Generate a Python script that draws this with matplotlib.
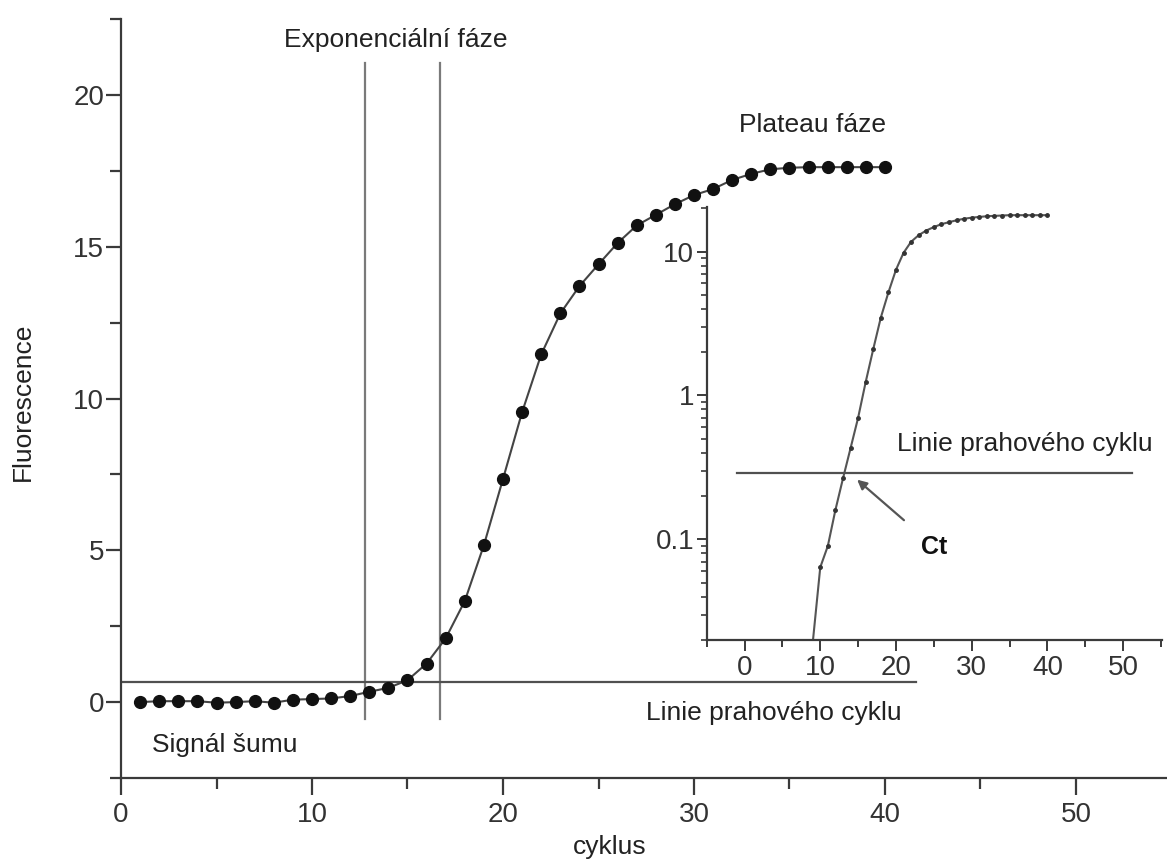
import numpy as np
import matplotlib
matplotlib.use("Agg")
import matplotlib.pyplot as plt
from matplotlib.ticker import MultipleLocator, LogLocator, FixedFormatter, FixedLocator, NullFormatter

plt.rcParams['font.family'] = ['Liberation Sans', 'DejaVu Sans']

# main curve: fluorescence per cycle (linear scale)
cycles = np.arange(1, 41)
fluor = [0.0, 0.03, 0.03, 0.03, -0.02, 0.0, 0.03, -0.02, 0.08, 0.10,
         0.12, 0.20, 0.34, 0.47, 0.72, 1.27, 2.1, 3.33, 5.17, 7.35,
         9.55, 11.45, 12.8, 13.7, 14.42, 15.12, 15.7, 16.05, 16.4, 16.7,
         16.9, 17.2, 17.4, 17.55, 17.6, 17.62, 17.62, 17.62, 17.62, 17.62]

# inset curve: same run on log scale (baseline corrected)
inset_cycles = np.arange(9, 41)
inset_fluor = [0.019, 0.064, 0.09, 0.16, 0.265, 0.43, 0.70, 1.24, 2.1, 3.48,
               5.2, 7.47, 9.8, 11.7, 13.0, 14.0, 14.8, 15.5, 16.0, 16.5,
               16.9, 17.2, 17.4, 17.6, 17.7, 17.8, 17.9, 17.9, 17.9, 17.9,
               17.9, 17.9]

exp_phase = [12.77, 16.70]      # borders of exponential phase
threshold_main = 0.675
threshold_inset = 0.29
ct_point = (14.87, 0.26)

x_ticks = [0, 10, 20, 30, 40, 50]
y_ticks = [0, 5, 10, 15, 20]

W, H = 1167, 859
fig = plt.figure(figsize=(W / 100, H / 100), dpi=100)

spine_c = '#3a3a3a'
text_c = '#222222'
tick_c = '#333333'
fs_tick = 20
fs_text = 19

# ---- main axes ----
ax = fig.add_axes([121 / W, 1 - 778 / H, 1 - 121 / W, (778 - 19) / H])
ax.set_xlim(0, (W - 121) / 19.1)
ax.set_ylim(-2.5, 22.5)
for s in ['top', 'right']:
    ax.spines[s].set_visible(False)
for s in ['left', 'bottom']:
    ax.spines[s].set_color(spine_c)
    ax.spines[s].set_linewidth(1.6)

ax.xaxis.set_major_locator(FixedLocator(x_ticks))
ax.xaxis.set_minor_locator(MultipleLocator(10, offset=5))
ax.yaxis.set_major_locator(FixedLocator(y_ticks))
ax.yaxis.set_minor_locator(MultipleLocator(5, offset=2.5))
ax.tick_params(axis='x', which='major', length=12, width=1.6, color=spine_c,
               labelsize=fs_tick, labelcolor=tick_c, pad=5)
ax.tick_params(axis='x', which='minor', length=8, width=1.6, color=spine_c)
ax.tick_params(axis='y', which='major', length=11, width=1.6, color=spine_c,
               labelsize=fs_tick, labelcolor=tick_c, pad=1)
ax.tick_params(axis='y', which='minor', length=8, width=1.6, color=spine_c)

ax.plot(cycles, fluor, '-', color='#444444', lw=1.5, zorder=3)
ax.plot(cycles, fluor, 'o', color='#111111', ms=8.5, zorder=4)

for xv in exp_phase:
    ax.plot([xv, xv], [-0.55, 21.05], color='#7a7a7a', lw=1.6, zorder=2)
ax.plot([0, 41.6], [threshold_main, threshold_main], color='#505050', lw=1.6, zorder=2)

ax.text(14.4, 21.8, 'Exponenciální fáze', fontsize=fs_text, color=text_c,
        ha='center', va='center')
ax.text(36.2, 19.0, 'Plateau fáze', fontsize=fs_text, color=text_c,
        ha='center', va='center')
ax.text(34.2, -0.35, 'Linie prahového cyklu', fontsize=fs_text, color=text_c,
        ha='center', va='center')
ax.text(5.45, -1.4, 'Signál šumu', fontsize=fs_text, color=text_c,
        ha='center', va='center')

fig.text(23 / W, 1 - 402 / H, 'Fluorescence', fontsize=fs_text, color=text_c,
         rotation=90, ha='center', va='center')
fig.text(610 / W, 1 - 847 / H, 'cyklus', fontsize=fs_text, color=text_c,
         ha='center', va='center')

# ---- inset (log scale) ----
ins = fig.add_axes([706.7 / W, 1 - 640 / H, (1161.7 - 706.7) / W, (640 - 206.7) / H])
ins.patch.set_alpha(0)
ins.set_yscale('log')
ins.set_xlim(-5, 55.1)
ins.set_ylim(0.02, 20.5)
for s in ['top', 'right']:
    ins.spines[s].set_visible(False)
for s in ['left', 'bottom']:
    ins.spines[s].set_color(spine_c)
    ins.spines[s].set_linewidth(1.6)

ins.xaxis.set_major_locator(FixedLocator(x_ticks))
ins.xaxis.set_minor_locator(MultipleLocator(10, offset=5))
ins.yaxis.set_major_locator(FixedLocator([0.1, 1, 10]))
ins.yaxis.set_major_formatter(FixedFormatter(['0.1', '1', '10']))
ins.yaxis.set_minor_locator(LogLocator(base=10, subs=np.arange(2, 10)))
ins.yaxis.set_minor_formatter(NullFormatter())
ins.tick_params(axis='x', which='major', length=8, width=1.4, color=spine_c,
                labelsize=fs_tick, labelcolor=tick_c, pad=3)
ins.tick_params(axis='x', which='minor', length=5, width=1.4, color=spine_c)
ins.tick_params(axis='y', which='major', length=7, width=1.4, color=spine_c,
                labelsize=fs_tick, labelcolor=tick_c, pad=2)
ins.tick_params(axis='y', which='minor', length=4, width=1.2, color=spine_c)

ins.plot(inset_cycles, inset_fluor, '-', color='#555555', lw=1.5,
         marker='o', ms=2.5, mfc='#333333', mec='#333333')
ins.plot([-1, 51.2], [threshold_inset, threshold_inset], color='#505050', lw=1.6)
ins.text(37.0, 0.46, 'Linie prahového cyklu', fontsize=fs_text, color=text_c,
         ha='center', va='center')
ins.annotate('Ct', xy=ct_point, xytext=(25.1, 0.089), fontsize=18,
             fontweight='bold', color='#111111', ha='center', va='center',
             arrowprops=dict(arrowstyle='-|>', color='#555555', lw=1.6,
                             mutation_scale=14, shrinkA=14, shrinkB=0))

fig.savefig('out.png', dpi=100)
